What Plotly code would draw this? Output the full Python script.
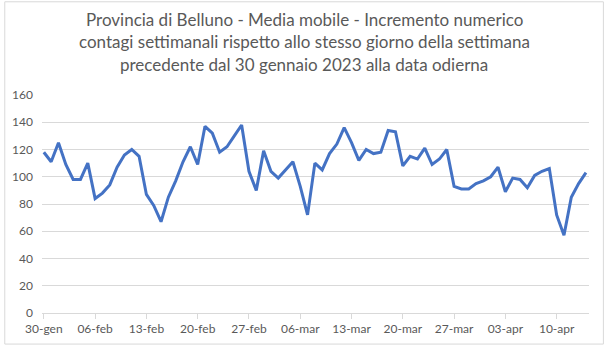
import pandas as pd
import plotly.graph_objects as go

# Weekly new-case increment (7-day moving average), Provincia di Belluno
start_date = "2023-01-30"
values = [
    118, 111, 125, 109, 98, 98, 110, 84, 88, 94,
    107, 116, 120, 115, 87, 79, 67, 85, 97, 111,
    122, 109, 137, 132, 118, 122, 130, 138, 104, 90,
    119, 104, 99, 105, 111, 93, 72, 110, 105, 117,
    124, 136, 125, 112, 120, 117, 118, 134, 133, 108,
    115, 113, 121, 109, 113, 120, 93, 91, 91, 95,
    97, 100, 107, 89, 99, 98, 92, 101, 104, 106,
    72, 57, 85, 95, 103,
]
dates = pd.date_range(start_date, periods=len(values), freq="D")

tick_dates = pd.date_range(start_date, periods=11, freq="7D")
tick_labels = ["30-gen", "06-feb", "13-feb", "20-feb", "27-feb", "06-mar",
               "13-mar", "20-mar", "27-mar", "03-apr", "10-apr"]
y_ticks = [0, 20, 40, 60, 80, 100, 120, 140, 160]

title_lines = [
    "Provincia di Belluno - Media mobile - Incremento numerico",
    "contagi settimanali rispetto allo stesso giorno della settimana",
    "precedente dal 30 gennaio 2023 alla data odierna",
]

W, H = 604, 348
ML, MR, MT, MB = 38, 15, 95, 32
GRAY = "#595959"
GRID = "#d9d9d9"
FONT = "Lato, 'Open Sans', sans-serif"

pw = W - ML - MR
ph = H - MT - MB

fig = go.Figure(
    go.Scatter(
        x=dates, y=values, mode="lines",
        line=dict(color="#4472C4", width=3),
        hoverinfo="x+y",
    )
)

x0 = dates[0] - pd.Timedelta(hours=6)
x1 = dates[-1] + pd.Timedelta(hours=10)

fig.update_layout(
    width=W, height=H,
    margin=dict(l=ML, r=MR, t=MT, b=MB),
    paper_bgcolor="white", plot_bgcolor="white",
    showlegend=False,
    font=dict(family=FONT, color=GRAY, size=12),
    xaxis=dict(
        range=[x0, x1],
        tickmode="array", tickvals=tick_dates, ticktext=tick_labels,
        showgrid=False, zeroline=False,
        showline=True, linecolor=GRID, linewidth=1,
        ticks="outside", ticklen=5, tickcolor=GRID,
        tickfont=dict(size=12, color=GRAY),
    ),
    yaxis=dict(
        range=[0, 160],
        tickmode="array", tickvals=y_ticks,
        showgrid=True, gridcolor=GRID, gridwidth=1,
        zeroline=False, showline=False,
        ticklabelstandoff=8,
        tickfont=dict(size=12, color=GRAY),
    ),
)

# Three-line centred title, one annotation per line
line_centres_px = [18, 41, 64]
for text, ypx in zip(title_lines, line_centres_px):
    fig.add_annotation(
        text=text, showarrow=False,
        xref="paper", yref="paper",
        x=(W / 2 - ML) / pw, xanchor="center",
        y=(H - MB - ypx) / ph, yanchor="middle",
        font=dict(family=FONT, size=17, color=GRAY),
    )

# Thin frame around the whole chart
fig.add_shape(
    type="rect", xref="paper", yref="paper",
    x0=(-ML + 0.5) / pw, x1=(pw + MR - 0.5) / pw,
    y0=(-MB + 0.5) / ph, y1=(ph + MT - 0.5) / ph,
    line=dict(color=GRID, width=1), fillcolor="rgba(0,0,0,0)",
    layer="below",
)

fig.write_html("out.html")
